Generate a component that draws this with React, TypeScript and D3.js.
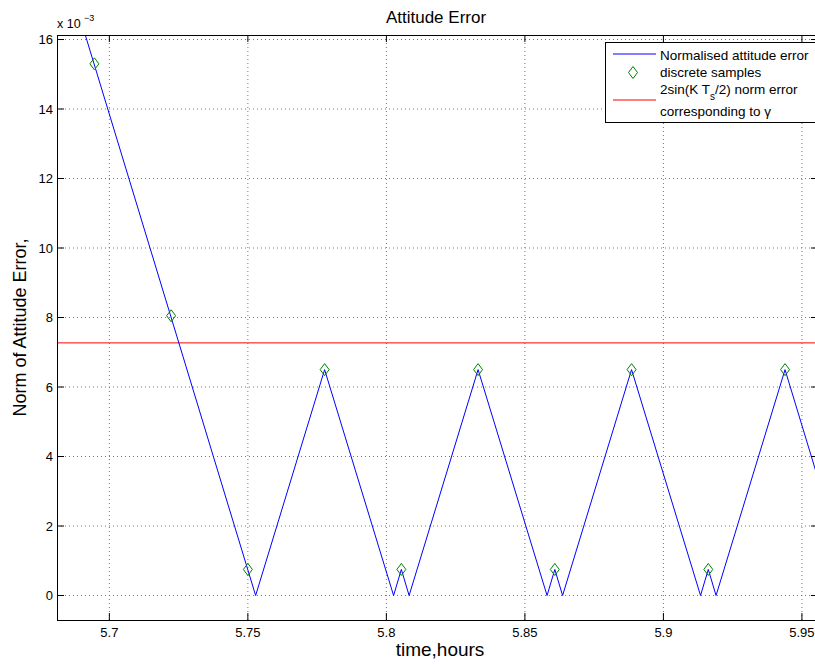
import React from "react";
import * as d3 from "d3";

// Values in units of 1e-3
const lineTimes = [5.688, 5.7528, 5.7777, 5.8026, 5.8054, 5.8082, 5.8331, 5.858, 5.8608, 5.8636, 5.8885, 5.9134, 5.9162, 5.919, 5.9439, 5.9558];
const lineValues = [17.0, 0, 6.5, 0, 0.75, 0, 6.5, 0, 0.75, 0, 6.5, 0, 0.75, 0, 6.5, 3.37];
const sampleTimes = [5.6946, 5.7223, 5.75, 5.7777, 5.8054, 5.8331, 5.8608, 5.8885, 5.9162, 5.9439];
const sampleValues = [15.3, 8.05, 0.75, 6.5, 0.75, 6.5, 0.75, 6.5, 0.75, 6.5];
const gammaLevel = 7.27;
const xTicks = [5.7, 5.75, 5.8, 5.85, 5.9, 5.95];
const yTicks = [0, 2, 4, 6, 8, 10, 12, 14, 16];
const legendLabels = ["Normalised attitude error", "discrete samples", "norm error", "corresponding to γ"];

const W = 815;
const H = 665;
const L = 57, R = 818, T = 35, B = 620;

export default function App() {
  const x = d3.scaleLinear().domain([5.6811, 5.9558]).range([L, R]);
  const y = d3.scaleLinear().domain([-0.705, 16.13]).range([B, T]);
  const line = d3.line<number>().x((_, i) => x(lineTimes[i])).y((d) => y(d));
  const font = "Liberation Sans, Arial, Helvetica, sans-serif";
  const diamond = (cx: number, cy: number) =>
    `M${cx},${cy - 6}L${cx + 4.5},${cy}L${cx},${cy + 6}L${cx - 4.5},${cy}Z`;
  const tickLen = 7;
  return (
    <svg width={W} height={H} style={{ position: "absolute", left: 0, top: 0, background: "#fff" }} fontFamily={font}>
      <defs>
        <clipPath id="plot">
          <rect x={L} y={T} width={R - L} height={B - T} />
        </clipPath>
      </defs>
      <rect x={0} y={0} width={W} height={H} fill="#fff" />
      {/* grid */}
      {xTicks.map((t) => (
        <line key={"gx" + t} x1={x(t)} x2={x(t)} y1={T} y2={B} stroke="#777" strokeWidth={1} strokeDasharray="1 3" />
      ))}
      {yTicks.map((t) => (
        <line key={"gy" + t} x1={L} x2={R} y1={y(t)} y2={y(t)} stroke="#777" strokeWidth={1} strokeDasharray="1 3" />
      ))}
      {/* data */}
      <g clipPath="url(#plot)">
        <line x1={L} x2={R} y1={y(gammaLevel)} y2={y(gammaLevel)} stroke="#ff0000" strokeWidth={1} />
        <path d={line(lineValues) || ""} fill="none" stroke="#0000ff" strokeWidth={1} />
        {sampleValues.map((v, i) => (
          <path key={"s" + i} d={diamond(x(sampleTimes[i]), y(v))} fill="none" stroke="#008000" strokeWidth={1} />
        ))}
      </g>
      {/* axes box */}
      <line x1={L} x2={R} y1={B + 0.5} y2={B + 0.5} stroke="#000" />
      <line x1={L} x2={R} y1={T + 0.5} y2={T + 0.5} stroke="#000" />
      <line x1={L + 0.5} x2={L + 0.5} y1={T} y2={B} stroke="#000" />
      <line x1={R - 0.5} x2={R - 0.5} y1={T} y2={B} stroke="#000" />
      {xTicks.map((t) => (
        <g key={"tx" + t}>
          <line x1={x(t)} x2={x(t)} y1={B} y2={B - tickLen} stroke="#000" />
          <line x1={x(t)} x2={x(t)} y1={T} y2={T + tickLen} stroke="#000" />
          <text x={x(t)} y={637} fontSize={13} textAnchor="middle" fill="#000">{t}</text>
        </g>
      ))}
      {yTicks.map((t) => (
        <g key={"ty" + t}>
          <line x1={L} x2={L + tickLen} y1={y(t)} y2={y(t)} stroke="#000" />
          <line x1={R} x2={R - tickLen} y1={y(t)} y2={y(t)} stroke="#000" />
          <text x={53} y={y(t) + 4.5} fontSize={13} textAnchor="end" fill="#000">{t}</text>
        </g>
      ))}
      {/* exponent */}
      <text x={57} y={28} fontSize={12.5} fill="#000">x 10</text>
      <text x={84} y={21} fontSize={9} fill="#000">−3</text>
      {/* title and labels */}
      <text x={436} y={23} fontSize={17} textAnchor="middle" fill="#000">Attitude Error</text>
      <text x={440} y={656} fontSize={19} textAnchor="middle" fill="#000">time,hours</text>
      <text transform={`translate(26,${(T + B) / 2}) rotate(-90)`} fontSize={18} textAnchor="middle" fill="#000">Norm of Attitude Error,</text>
      {/* legend */}
      <rect x={605.5} y={42.5} width={212} height={80} fill="#fff" stroke="#000" />
      <line x1={613} x2={656} y1={54} y2={54} stroke="#0000ff" />
      <text x={660} y={60} fontSize={13.5} fill="#000">{legendLabels[0]}</text>
      <path d={diamond(633, 72.5)} fill="none" stroke="#008000" />
      <text x={660} y={77} fontSize={13.5} fill="#000">{legendLabels[1]}</text>
      <text x={660} y={93.5} fontSize={13.5} fill="#000">
        2sin(K T<tspan dy={6} fontSize={10}>s</tspan><tspan dy={-6}>/2) {legendLabels[2]}</tspan>
      </text>
      <line x1={613} x2={656} y1={100} y2={100} stroke="#ff0000" />
      <text x={660} y={116} fontSize={13.5} fill="#000">{legendLabels[3]}</text>
    </svg>
  );
}
